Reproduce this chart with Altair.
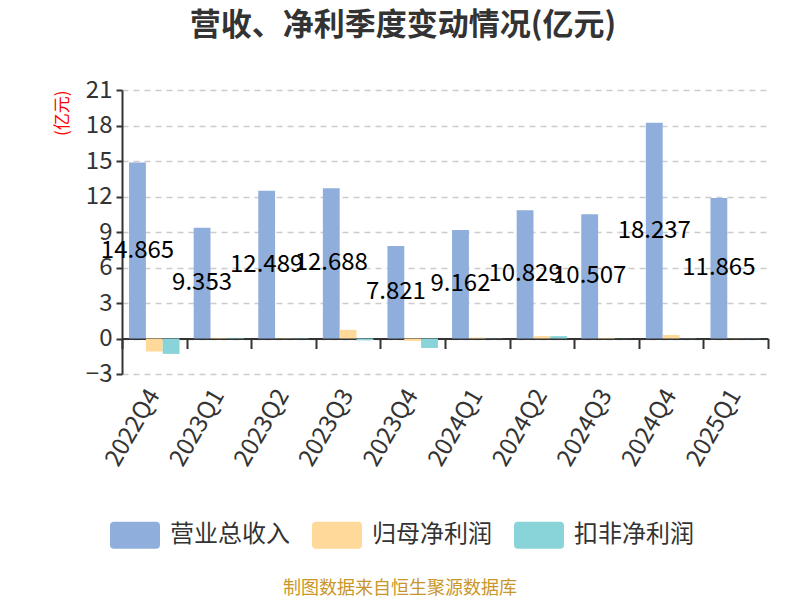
import altair as alt
import pandas as pd

quarters = ["2022Q4", "2023Q1", "2023Q2", "2023Q3", "2023Q4",
            "2024Q1", "2024Q2", "2024Q3", "2024Q4", "2025Q1"]
series_names = ["营业总收入", "归母净利润", "扣非净利润"]
revenue = [14.865, 9.353, 12.489, 12.688, 7.821, 9.162, 10.829, 10.507, 18.237, 11.865]
net_profit = [-1.1, 0.05, 0.03, 0.73, -0.2, 0.08, 0.2, 0.05, 0.3, 0.02]
deducted_profit = [-1.3, 0.05, 0.03, -0.15, -0.8, 0.02, 0.2, 0.01, 0.02, 0.02]
colors = ["#8FAEDC", "#FFD999", "#89D4D9"]
y_ticks = [-3, 0, 3, 6, 9, 12, 15, 18, 21]

rows = []
for i, q in enumerate(quarters):
    for name, vals in zip(series_names, [revenue, net_profit, deducted_profit]):
        rows.append({"quarter": q, "series": name, "value": vals[i]})
df = pd.DataFrame(rows)
rev_df = df[df["series"] == series_names[0]].copy()

font = "Noto Sans CJK SC"
W, H = 646, 284

xscale = alt.Scale(domain=quarters, paddingInner=0, paddingOuter=0)
yscale = alt.Scale(domain=[-3, 21], nice=False, zero=False)
offscale = alt.Scale(domain=series_names, paddingInner=0, paddingOuter=0.42)

legend_path = ("M-0.84,-0.54 L0.84,-0.54 Q1,-0.54 1,-0.38 L1,0.38 Q1,0.54 0.84,0.54 "
               "L-0.84,0.54 Q-1,0.54 -1,0.38 L-1,-0.38 Q-1,-0.54 -0.84,-0.54 Z")

yaxis = alt.Axis(values=y_ticks, tickCount=12, title="(亿元)", titleColor="red", titleFontSize=17,
                 titleFontWeight="normal", titleFont=font, titleAngle=-90,
                 titleX=-60, titleY=0, titleAlign="right", titleBaseline="middle",
                 labelFontSize=24, labelColor="#333", labelFont=font, labelPadding=4,
                 labelOverlap=False,
                 domainColor="#333", domainWidth=2, tickColor="#333", tickWidth=2,
                 tickSize=6, gridColor="#cccccc", gridDash=[6, 5], gridWidth=1.5)

bars = alt.Chart(df).mark_bar().encode(
    x=alt.X("quarter:N", sort=quarters, scale=xscale,
            axis=alt.Axis(title=None, orient="bottom", labelAngle=-60, labelAlign="right",
                          labelBaseline="middle", labelFontSize=24, labelColor="#333",
                          labelFont=font, labelPadding=17, domain=False, ticks=False, grid=False)),
    xOffset=alt.XOffset("series:N", sort=series_names, scale=offscale),
    y=alt.Y("value:Q", scale=yscale, axis=yaxis),
    color=alt.Color("series:N", sort=series_names,
                    scale=alt.Scale(domain=series_names, range=colors),
                    legend=alt.Legend(title=None, orient="none", direction="horizontal",
                                      legendX=-12, legendY=420, symbolType=legend_path,
                                      symbolSize=2500, symbolStrokeWidth=0, symbolOpacity=1,
                                      labelFontSize=24, labelColor="#333", labelFont=font,
                                      labelOffset=10, columnPadding=22, padding=0)),
)

labels = alt.Chart(rev_df).transform_calculate(mid="datum.value / 2").mark_text(
    fontSize=24, color="black", font=font, baseline="middle", align="center"
).encode(
    x=alt.X("quarter:N", sort=quarters, scale=xscale,
            axis=alt.Axis(title=None, orient="bottom", offset=-35.5, labels=False,
                          ticks=True, tickBand="extent", tickSize=10, tickColor="#333",
                          tickWidth=2, domain=True, domainColor="#333", domainWidth=2,
                          grid=False)),
    xOffset=alt.XOffset("series:N", sort=series_names, scale=offscale),
    y=alt.Y("mid:Q", scale=yscale, axis=yaxis),
    text=alt.Text("value:Q", format=".3f"),
)

footer = alt.Chart(pd.DataFrame({"t": ["制图数据来自恒生聚源数据库"]})).mark_text(
    fontSize=18, color="#C9962A", font=font, align="center", baseline="middle"
).encode(
    x=alt.value(278), y=alt.value(499), text="t:N"
)

chart = alt.layer(bars, labels, footer).resolve_axis(x="independent").properties(
    width=W, height=H,
    title=alt.TitleParams("营收、净利季度变动情况(亿元)", fontSize=31, fontWeight="bold",
                          color="#333", font=font, dx=-42, offset=36),
    autosize=alt.AutoSizeParams(type="none"),
    padding={"left": 114, "top": 82, "right": 24, "bottom": 226},
).configure_view(stroke=None)

chart.save("out.html", embed_options={"renderer": "svg", "actions": False})
